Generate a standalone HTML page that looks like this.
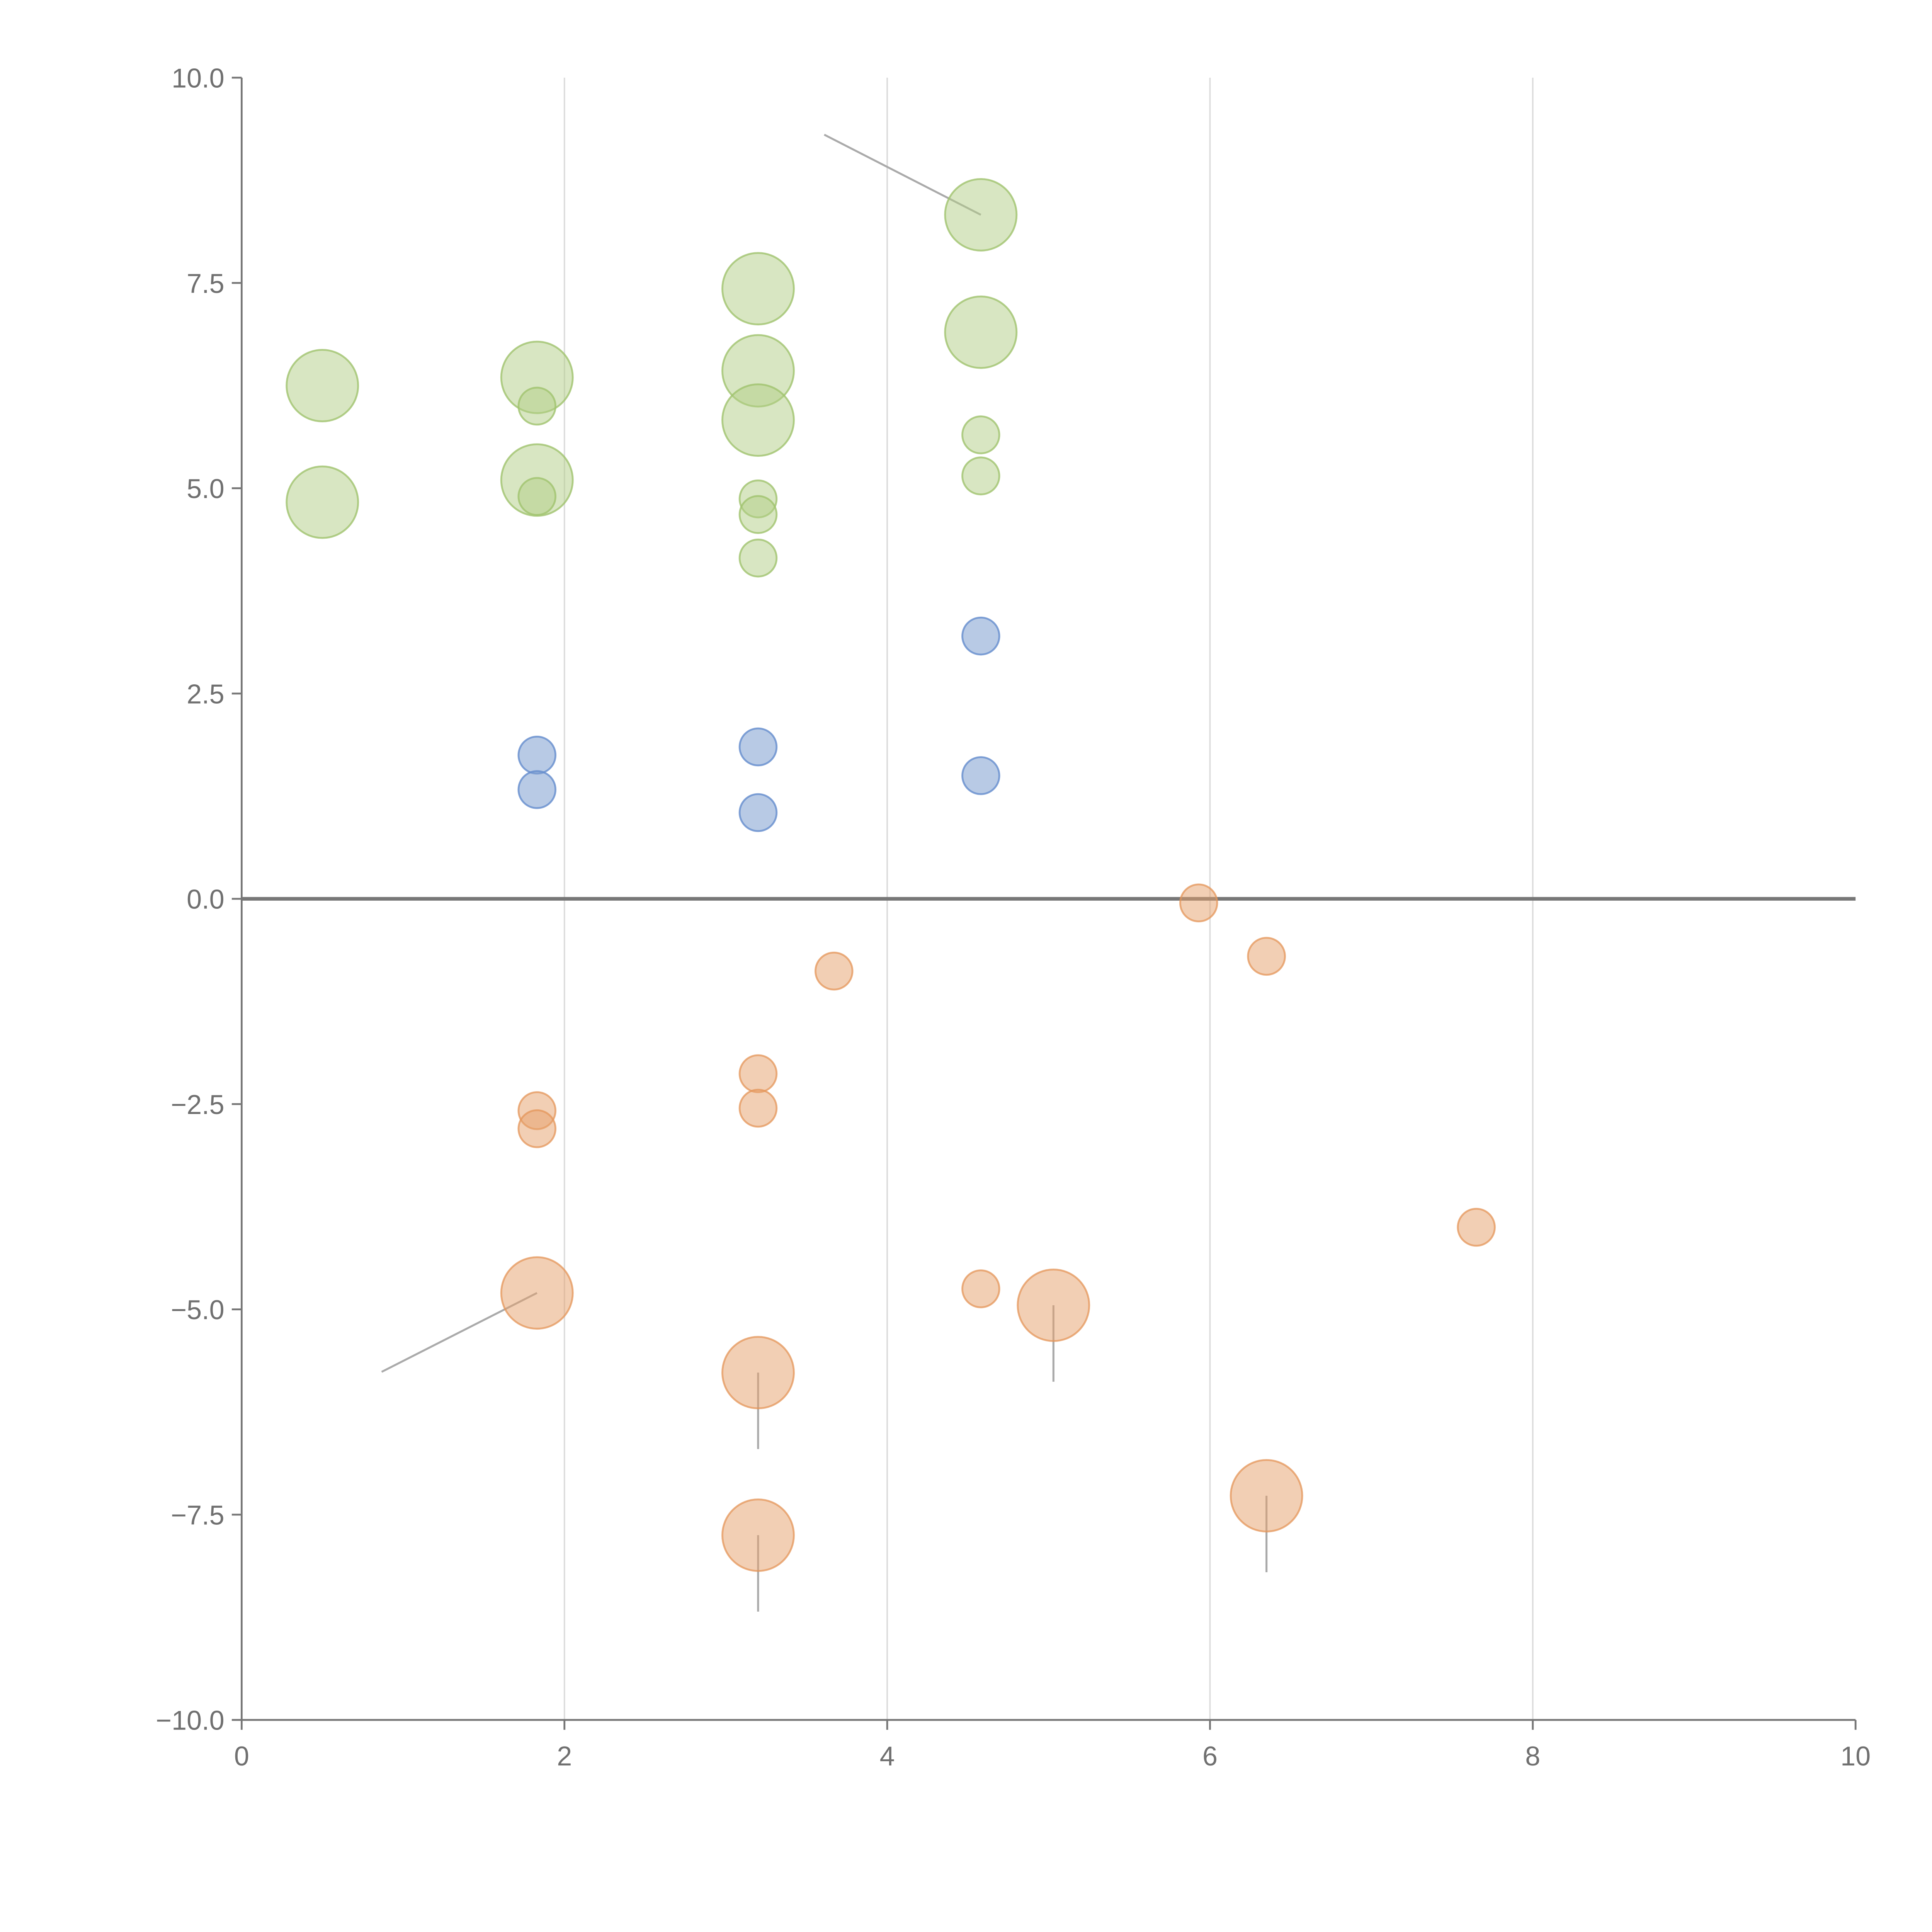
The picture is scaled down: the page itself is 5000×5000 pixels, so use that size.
<!DOCTYPE html>
<html><head><meta charset="utf-8"><style>
html,body{margin:0;padding:0;background:#fff;}
svg{display:block;}
text{font-family:"Liberation Sans",Arial,sans-serif;fill:#707070;font-size:22px;}
</style></head><body>
<svg id="chart" width="5000" height="5000" viewBox="0 0 1567 1567" xmlns="http://www.w3.org/2000/svg">
<g id="grid"></g>
<g id="axes"></g>
<g id="leaders"></g>
<g id="marks"></g>
</svg>
<script>
const greenX=[0.5,0.5,1.83,1.83,1.83,1.83,3.2,3.2,3.2,3.2,3.2,3.2,4.58,4.58,4.58,4.58];
const greenY=[6.25,4.83,6.35,6.0,5.1,4.9,7.43,6.43,5.83,4.87,4.68,4.15,8.33,6.9,5.65,5.15];
const greenS=[2,2,2,1,2,1,2,2,2,1,1,1,2,2,1,1];
const blueX=[1.83,1.83,3.2,3.2,4.58,4.58];
const blueY=[1.75,1.33,1.85,1.05,3.2,1.5];
const blueS=[1,1,1,1,1,1];
const orangeX=[5.93,6.35,3.67,3.2,3.2,1.83,1.83,7.65,4.58,5.03,1.83,3.2,3.2,6.35];
const orangeY=[-0.05,-0.7,-0.88,-2.13,-2.55,-2.58,-2.8,-4.0,-4.75,-4.95,-4.8,-5.77,-7.75,-7.27];
const orangeS=[1,1,1,1,1,1,1,1,1,2,2,2,2,2];
const xTicks=[0,2,4,6,8,10];
const yTicks=[10,7.5,5,2.5,0,-2.5,-5,-7.5,-10];
const yTickLabels=["10.0","7.5","5.0","2.5","0.0","\u22122.5","\u22125.0","\u22127.5","\u221210.0"];

const X0=196,X1=1505,Y0=63,Y1=1395;
const sx=v=>X0+(v-0)/(10-0)*(X1-X0);
const sy=v=>Y0+(10-v)/20*(Y1-Y0);
const NS="http://www.w3.org/2000/svg";
function mk(tag,attrs,parent){const e=document.createElementNS(NS,tag);for(const k in attrs)e.setAttribute(k,attrs[k]);parent.appendChild(e);return e;}
const grid=document.getElementById('grid'),axes=document.getElementById('axes'),marks=document.getElementById('marks'),leaders=document.getElementById('leaders');

xTicks.forEach(t=>{
  if(t>0&&t<10){const g=mk('line',{x1:sx(t),x2:sx(t),y1:Y0,y2:Y1,stroke:'#dcdcdc','stroke-width':1.2},grid);
  
  }
  const tk=mk('line',{x1:sx(t),x2:sx(t),y1:Y1,y2:Y1+8,stroke:'#777','stroke-width':1.5},axes);
  
  
  const tx=mk('text',{x:sx(t),y:Y1+37,'text-anchor':'middle'},axes);tx.textContent=t;
  
  
});
yTicks.forEach((t,i)=>{
  const tk=mk('line',{x1:X0-8,x2:X0,y1:sy(t),y2:sy(t),stroke:'#777','stroke-width':1.5},axes);
  
  
  const tx=mk('text',{x:X0-14,y:sy(t)+8,'text-anchor':'end'},axes);tx.textContent=yTickLabels[i];
  
  
});
let a=mk('line',{x1:X0,x2:X0,y1:Y0,y2:Y1,stroke:'#777','stroke-width':1.5},axes);


a=mk('line',{x1:X0,x2:X1,y1:Y1,y2:Y1,stroke:'#777','stroke-width':1.5},axes);


a=mk('line',{x1:X0,x2:X1,y1:sy(0),y2:sy(0),stroke:'#777','stroke-width':3},axes);



const rad=s=>s===2?29:15;
function series(xs,ys,ss,fill,stroke,name){
  xs.forEach((x,i)=>{
    const c=mk('circle',{cx:sx(x),cy:sy(ys[i]),r:rad(ss[i]),fill:fill,stroke:stroke,'stroke-width':1.5},marks);
    
    
  });
}
series(greenX,greenY,greenS,'rgba(178,205,133,0.5)','rgba(160,195,110,0.8)','green-bubble');
series(blueX,blueY,blueS,'rgba(125,158,208,0.55)','rgba(100,140,205,0.8)','blue-bubble');
series(orangeX,orangeY,orangeS,'rgba(230,160,105,0.5)','rgba(228,150,90,0.75)','orange-bubble');

function leader(x1,y1,dx,dy){
  const l=mk('line',{x1:sx(x1),y1:sy(y1),x2:sx(x1)+dx,y2:sy(y1)+dy,stroke:'#aaa','stroke-width':1.6},leaders);
  
  
}
leader(4.58,8.33,-127,-65);
leader(1.83,-4.8,-126,64);
leader(3.2,-5.77,0,62);
leader(3.2,-7.75,0,62);
leader(5.03,-4.95,0,62);
leader(6.35,-7.27,0,62);
</script>
</body></html>
